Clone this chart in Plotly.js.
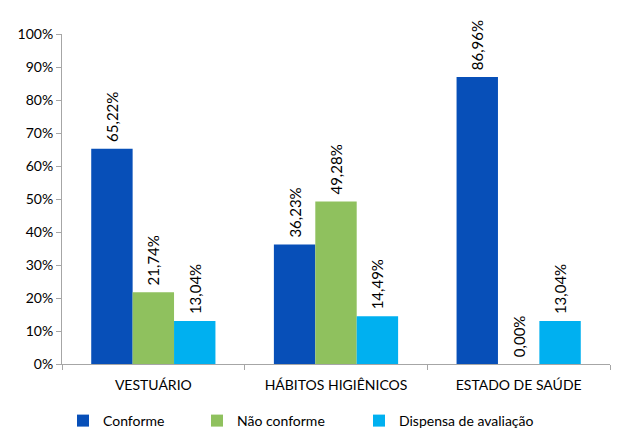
<!DOCTYPE html>
<html><head><meta charset="utf-8">
<script src="https://cdn.plot.ly/plotly-3.0.1.min.js"></script>
<style>html,body{margin:0;padding:0;background:#fff}#c{width:618px;height:430px}</style>
</head><body><div id="c"></div>
<script>
var categories = ['VESTUÁRIO', 'HÁBITOS HIGIÊNICOS', 'ESTADO DE SAÚDE'];
var seriesNames = ['Conforme', 'Não conforme', 'Dispensa de avaliação'];
var conforme = [65.22, 36.23, 86.96];
var naoConforme = [21.74, 49.28, 0.00];
var dispensa = [13.04, 14.49, 13.04];
var colors = ['#074FB8', '#8FC15E', '#00B0F0'];
var values = [conforme, naoConforme, dispensa];
var legendX = [63, 197, 359];
var font = 'Lato, "Open Sans", sans-serif';
var traces = values.map(function(v, i){
  return {type:'bar', x:categories, y:v, name:seriesNames[i],
    legend: i === 0 ? 'legend' : 'legend' + (i + 1),
    marker:{color:colors[i]},
    texttemplate:'\u00a0%{y:.2f}%', textposition:'outside', textangle:-90,
    constraintext:'none', cliponaxis:false,
    textfont:{family:font, size:15, color:'#000'}, hoverinfo:'none'};
});
var layout = {
  width:618, height:430,
  margin:{l:62, r:8, t:34, b:66, autoexpand:false},
  separators:',.',
  barmode:'group', bargap:0.32, bargroupgap:0,
  paper_bgcolor:'#fff', plot_bgcolor:'#fff',
  font:{family:font, size:14, color:'#000'},
  showlegend:true,
  xaxis:{showline:true, linecolor:'#A6A6A6', linewidth:1, ticks:'outside',
    tickson:'boundaries', ticklen:5, tickcolor:'#A6A6A6', showgrid:false,
    automargin:false, ticklabelstandoff:8, tickfont:{family:font, size:14}},
  yaxis:{range:[0,100], dtick:10, ticksuffix:'%', showline:true,
    linecolor:'#A6A6A6', linewidth:1, ticks:'outside', ticklen:5,
    tickcolor:'#A6A6A6', showgrid:false, zeroline:false, automargin:false,
    tickfont:{family:font, size:14}}
};
legendX.forEach(function(px, i){
  layout[i === 0 ? 'legend' : 'legend' + (i + 1)] = {
    orientation:'h', xref:'container', yref:'container',
    x:px / 618, xanchor:'left', y:9 / 430, yanchor:'middle',
    font:{family:font, size:14}, bgcolor:'rgba(0,0,0,0)'};
});
Plotly.newPlot('c', traces, layout, {displayModeBar:false, staticPlot:true});
</script></body></html>
